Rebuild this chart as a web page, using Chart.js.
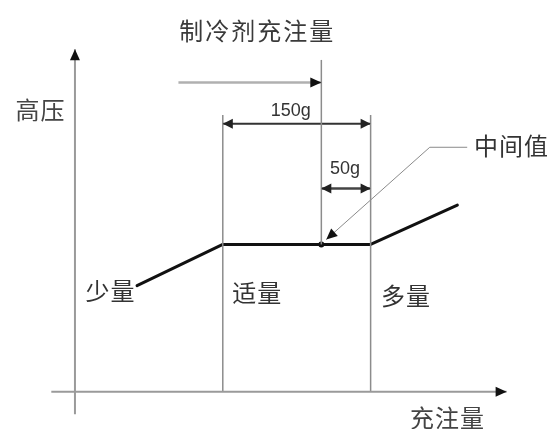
<!DOCTYPE html>
<html><head><meta charset="utf-8">
<script src="https://cdn.jsdelivr.net/npm/chart.js@4/dist/chart.umd.min.js"></script>
<style>html,body{margin:0;padding:0;background:#fff}canvas{display:block}</style>
</head><body>
<canvas id="c" width="553" height="429"></canvas>
<script>
// ---- data (charge amount in g on x, high pressure in arbitrary units on y) ----
const curveX = [63, 150, 300, 388];
const curveY = [108, 150, 150, 190];
const zoneBounds = [150, 300];      // proper charge range
const midValue = 250;               // middle value
const zoneLabels = ['少量', '适量', '多量'];
const zoneLabelX = [36, 185, 336];
const zoneLabelY = [103, 101, 98];
const dimLabels = ['150g', '50g'];
const titleText = '制冷剂充注量';
const yAxisTitle = '高压';
const xAxisTitle = '充注量';
const midLabel = '中间值';
const xRange = [-72, 481];
const yRange = [-34, 395];

const pts = (xs, ys) => xs.map((x, i) => ({x, y: ys[i]}));
const line = (data, color, width, extra) => Object.assign({
  type: 'scatter', data, showLine: true, borderColor: color, borderWidth: width,
  pointRadius: 0, fill: false, tension: 0, borderCapStyle: 'butt'
}, extra || {});

const datasets = [
  line(pts([0, 0], [-23, 349]), '#9a9a9a', 2),                       // y axis
  line(pts([-24, 438], [0, 0]), '#9a9a9a', 2),                       // x axis
  line(pts([zoneBounds[0], zoneBounds[0]], [0, 282]), '#8c8c8c', 1.5),
  line(pts([zoneBounds[1], zoneBounds[1]], [0, 282]), '#8c8c8c', 1.5),
  line(pts([midValue, midValue], [150, 338]), '#8c8c8c', 1.5),
  line(pts([105, midValue], [315, 315]), '#b0b0b0', 2.5),           // charge arrow
  line(pts([zoneBounds[0], zoneBounds[1]], [273, 273]), '#333', 2), // 150g
  line(pts([midValue, zoneBounds[1]], [207, 207]), '#444', 2.5),     // 50g
  line(pts([255, 360, 398], [155, 249, 249]), '#8a8a8a', 1),         // leader
  line(pts(curveX, curveY), '#111', 3, {borderJoinStyle: 'round', borderCapStyle: 'round'}),
  {type: 'scatter', data: [{x: midValue, y: 150}], pointRadius: 3, pointBackgroundColor: '#111', pointBorderWidth: 0, showLine: false}
];

// arrowheads: [tipX, tipY, fromX, fromY, color, length, halfWidth]
const arrowHeads = [
  [0, 349, 0, 0, '#111', 11, 5],
  [438, 0, 0, 0, '#111', 11, 5],
  [midValue, 315, 105, 315, '#111', 11, 5],
  [zoneBounds[0], 273, 300, 273, '#222', 10, 5],
  [zoneBounds[1], 273, 150, 273, '#222', 10, 5],
  [midValue, 207, 300, 207, '#222', 10, 5],
  [zoneBounds[1], 207, 250, 207, '#222', 10, 5],
  [255, 155, 360, 249, '#111', 11, 5]
];

const overlay = {
  id: 'overlay',
  afterDatasetsDraw(chart) {
    const ctx = chart.ctx, xs = chart.scales.x, ys = chart.scales.y;
    const px = v => xs.getPixelForValue(v), py = v => ys.getPixelForValue(v);
    ctx.save();
    arrowHeads.forEach(([tx, ty, fx, fy, col, len, hw]) => {
      const X = px(tx), Y = py(ty), FX = px(fx), FY = py(fy);
      const a = Math.atan2(Y - FY, X - FX);
      ctx.fillStyle = col;
      ctx.beginPath();
      ctx.moveTo(X, Y);
      ctx.lineTo(X - len * Math.cos(a) + hw * Math.sin(a), Y - len * Math.sin(a) - hw * Math.cos(a));
      ctx.lineTo(X - len * Math.cos(a) - hw * Math.sin(a), Y - len * Math.sin(a) + hw * Math.cos(a));
      ctx.closePath();
      ctx.fill();
    });
    const cjk = '"Noto Sans CJK SC", sans-serif';
    const txt = (s, x, y, size, align, color, font, spacing) => {
      ctx.font = size + 'px ' + font;
      ctx.fillStyle = color;
      ctx.textAlign = align;
      ctx.textBaseline = 'middle';
      ctx.letterSpacing = (spacing || 0) + 'px';
      ctx.fillText(s, px(x), py(y));
    };
    txt(titleText, 185, 368, 24, 'center', '#3a3a3a', cjk, 2);
    txt(yAxisTitle, -35, 287, 24, 'center', '#444', cjk, 1);
    zoneLabels.forEach((s, i) => txt(s, zoneLabelX[i], zoneLabelY[i], 24, 'center', '#333', cjk, 1));
    txt(xAxisTitle, 378, -27, 24, 'center', '#444', cjk, 1);
    txt(midLabel, 405, 250, 24, 'left', '#333', cjk, 1);
    txt(dimLabels[0], 219, 286, 18, 'center', '#333', '"Liberation Sans", Arial, sans-serif', 0);
    txt(dimLabels[1], 274, 227, 18, 'center', '#333', '"Liberation Sans", Arial, sans-serif', 0);
    ctx.restore();
  }
};

new Chart(document.getElementById('c'), {
  type: 'scatter',
  data: {datasets},
  options: {
    responsive: false, animation: false,
    layout: {padding: 0},
    plugins: {legend: {display: false}, tooltip: {enabled: false}, title: {display: false}},
    scales: {
      x: {type: 'linear', min: xRange[0], max: xRange[1], display: false},
      y: {type: 'linear', min: yRange[0], max: yRange[1], display: false}
    }
  },
  plugins: [overlay]
});
</script>
</body></html>
